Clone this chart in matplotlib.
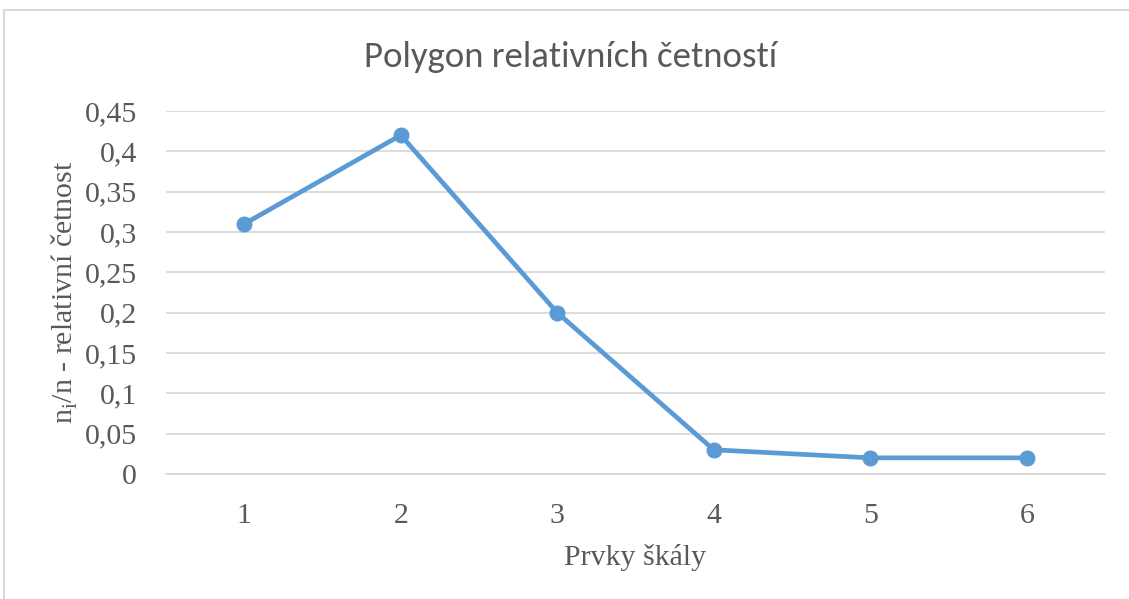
import matplotlib
matplotlib.use("Agg")
import matplotlib.pyplot as plt
from matplotlib.lines import Line2D
from matplotlib.ticker import FuncFormatter
from matplotlib import font_manager as fm

categories = [1, 2, 3, 4, 5, 6]
values = [0.31, 0.42, 0.20, 0.03, 0.02, 0.02]
yticks = [0, 0.05, 0.1, 0.15, 0.2, 0.25, 0.3, 0.35, 0.4, 0.45]

names = {f.name for f in fm.fontManager.ttflist}
serif = "Liberation Serif" if "Liberation Serif" in names else "DejaVu Serif"
title_font = "Carlito" if "Carlito" in names else "Lato"
title_size = 26.5 if title_font == "Carlito" else 24.5
plt.rcParams["font.family"] = "serif"
plt.rcParams["font.serif"] = [serif, "DejaVu Serif"]
plt.rcParams["mathtext.fontset"] = "custom"
plt.rcParams["mathtext.rm"] = serif

W, H, DPI = 1129, 599, 100
fig = plt.figure(figsize=(W / DPI, H / DPI), dpi=DPI)

# chart border (left and top visible)
fig.add_artist(Line2D([4 / W, 4 / W], [0, 1 - 10 / H], transform=fig.transFigure,
                      color="#D9D9D9", lw=1.5))
fig.add_artist(Line2D([4 / W, 1], [1 - 10 / H, 1 - 10 / H], transform=fig.transFigure,
                      color="#D9D9D9", lw=1.5))

left, right = 166 / W, 1105 / W
bottom, top = 1 - 474 / H, 1 - 111 / H
ax = fig.add_axes([left, bottom, right - left, top - bottom])

ax.set_xlim(0.5, 6.5)
ax.set_ylim(0, 0.45)
ax.set_yticks(yticks)
ax.set_xticks(categories)
ax.yaxis.set_major_formatter(FuncFormatter(lambda v, p: ("%g" % round(v, 2)).replace(".", ",")))
ax.grid(axis="y", color="#D9D9D9", lw=1.3)
ax.set_axisbelow(True)
for s in ["left", "right", "top"]:
    ax.spines[s].set_visible(False)
ax.spines["bottom"].set_color("#D9D9D9")
ax.spines["bottom"].set_linewidth(1.3)
ax.tick_params(length=0, labelsize=21.5, labelcolor="#595959")
ax.tick_params(axis="y", pad=21)
ax.tick_params(axis="x", pad=21)

ax.plot(categories, values, color="#5B9BD5", lw=3.4, marker="o", markersize=10.5,
        solid_capstyle="round", solid_joinstyle="round", zorder=3, clip_on=False)

ax.set_xlabel("Prvky škály", fontsize=21.5, color="#595959", labelpad=11)
ax.set_ylabel(r"n$_\mathregular{i}$/n - relativní četnost", fontsize=21.5, color="#595959",
              labelpad=3)

fig.text(0.505, 1 - 57 / H, "Polygon relativních četností", ha="center", va="center",
         fontsize=title_size, color="#595959", family=title_font)

fig.savefig("out.png", dpi=DPI)
